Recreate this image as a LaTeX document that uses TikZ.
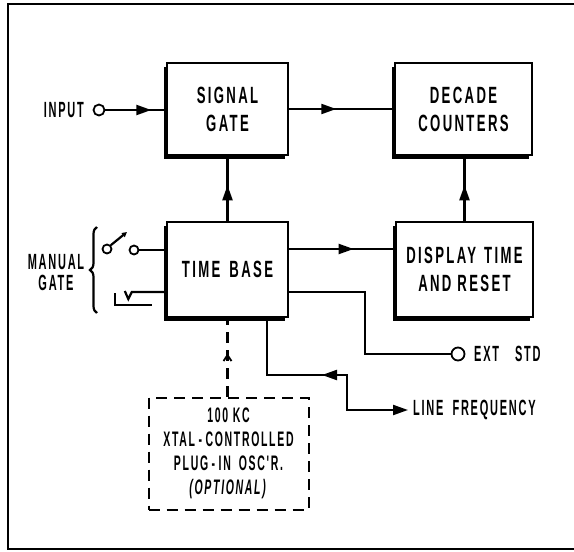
\documentclass[tikz,border=0pt]{standalone}
\usepackage{fontspec}
\setmainfont{Liberation Sans}[UprightFont={* Bold},ItalicFont={* Bold Italic},FakeStretch=0.56,LetterSpace=10]
\newfontfamily\narrowfont{Liberation Sans}[UprightFont={* Bold},ItalicFont={* Bold Italic},FakeStretch=0.5,LetterSpace=8]
\usetikzlibrary{arrows.meta,decorations.markings,decorations.pathreplacing,shadows}
\begin{document}
\begin{tikzpicture}[x=1pt,y=-1pt,
  every node/.style={font=\fontsize{23.5}{28}\selectfont},
  blk/.style={draw,rectangle,line width=2.4pt,inner sep=0pt,align=center,fill=white,
    drop shadow={shadow xshift=-3pt,shadow yshift=-4pt,opacity=1,fill=black}},
  conn/.style={line width=2.2pt},
  circ/.style={draw,circle,line width=1.8pt,inner sep=0pt,minimum size=11pt},
  dbox/.style={draw,rectangle,line width=2pt,dash pattern=on 11pt off 7pt,inner sep=0pt,align=center},
  marrow/.style={postaction={decorate},decoration={markings,mark=at position #1 with {\arrow{Triangle[length=15pt,width=10pt]}}}},
  chev/.style={postaction={decorate},decoration={markings,mark=at position #1 with {\arrow[line width=1.8pt]{Straight Barb[length=6pt,width=8pt]}}}},
  lbl/.style={inner sep=0pt,font=\narrowfont\fontsize{22}{22}\selectfont}]
\useasboundingbox (0,0) rectangle (574,552);
\fill[white] (0,0) rectangle (574,552);
% frame
\draw[line width=1.8pt] (576,4) -- (8,4) -- (8,549) -- (576,549);
% blocks
\node[blk,minimum width=121pt,minimum height=92pt] (sg) at (227.5,109) {SIGNAL\\GATE};
\node[blk,minimum width=137pt,minimum height=92pt] (dc) at (463.5,109) {DECADE\\COUNTERS};
\node[blk,minimum width=121pt,minimum height=95pt] (tb) at (227.5,269.5) {TIME\hspace{9pt}BASE};
\node[blk,minimum width=137pt,minimum height=95pt] (dr) at (464.5,269.5) {DISPLAY\hspace{8pt}TIME\\AND\hspace{6pt}RESET};
\node[dbox,minimum width=160pt,minimum height=112pt,font=\narrowfont\fontsize{21}{24}\selectfont] (osc) at (228.5,453.5)
  {100 KC\\XTAL\,-\,CONTROLLED\\PLUG\,-\,IN\hspace{8pt}OSC'R.\\\textit{(OPTIONAL)}};
% input
\node[circ] (inp) at (99,110) {};
\node[lbl,anchor=east] (inptxt) at (84,110) {INPUT};
\draw[conn,marrow=0.76] (inp) -- (inp -| sg.west);
% main arrows
\draw[conn,marrow=0.45] (sg.east) -- (dc.west);
\draw[conn,marrow=0.55] (tb.north) -- (sg.south);
\draw[conn,marrow=0.55] (dr.north) -- (dr.north |- dc.south);
\draw[conn,marrow=0.61] ([yshift=20.5pt]tb.east) -- ([yshift=20.5pt]tb.east -| dr.west);
% manual gate
\node[align=center,lbl,font=\narrowfont\fontsize{22}{21}\selectfont] (mg) at (56,272.5) {MANUAL\\GATE};
\draw[conn,decorate,decoration={brace,amplitude=7pt}] (97,313) -- (97,227);
\node[circ,minimum size=9pt] (s1) at (107,249) {};
\node[circ,minimum size=9pt] (s2) at (134,250) {};
\coordinate (swtip) at (127,232);
\draw[conn] (s2) -- (s2 -| tb.west);
\draw[conn,-{Triangle[length=5pt,width=5pt]}] (s1.north east) -- (swtip);
\draw[conn] ([yshift=-22.5pt]tb.west) -- ++(-34,0) -- ++(-3.5,7) -- ++(-3.5,-8);
\coordinate (lcorner) at (115,305);
\draw[conn] (115,293) -- (lcorner) -- (152,305);
% ext std
\node[circ,minimum size=13pt] (ext) at (458,354) {};
\node[lbl,anchor=west] (exttxt) at (474,354) {EXT\hspace{16pt}STD};
\draw[conn] ([yshift=-22.5pt]tb.east) -- ++(76,0) |- (ext);
% line frequency
\node[lbl,anchor=west,inner sep=5pt] (lf) at (408,410) {LINE\hspace{9pt}FREQUENCY};
\coordinate (lfk) at (347,375);
\draw[conn,{Triangle[length=15pt,width=10pt]}-,marrow=121pt] (lf.west) -| (lfk) -| ([xshift=39.5pt]tb.south);
% oscillator
\draw[conn,dash pattern=on 11pt off 7pt,chev=0.55] (tb.south |- osc.north) -- (tb.south);
\end{tikzpicture}
\end{document}
